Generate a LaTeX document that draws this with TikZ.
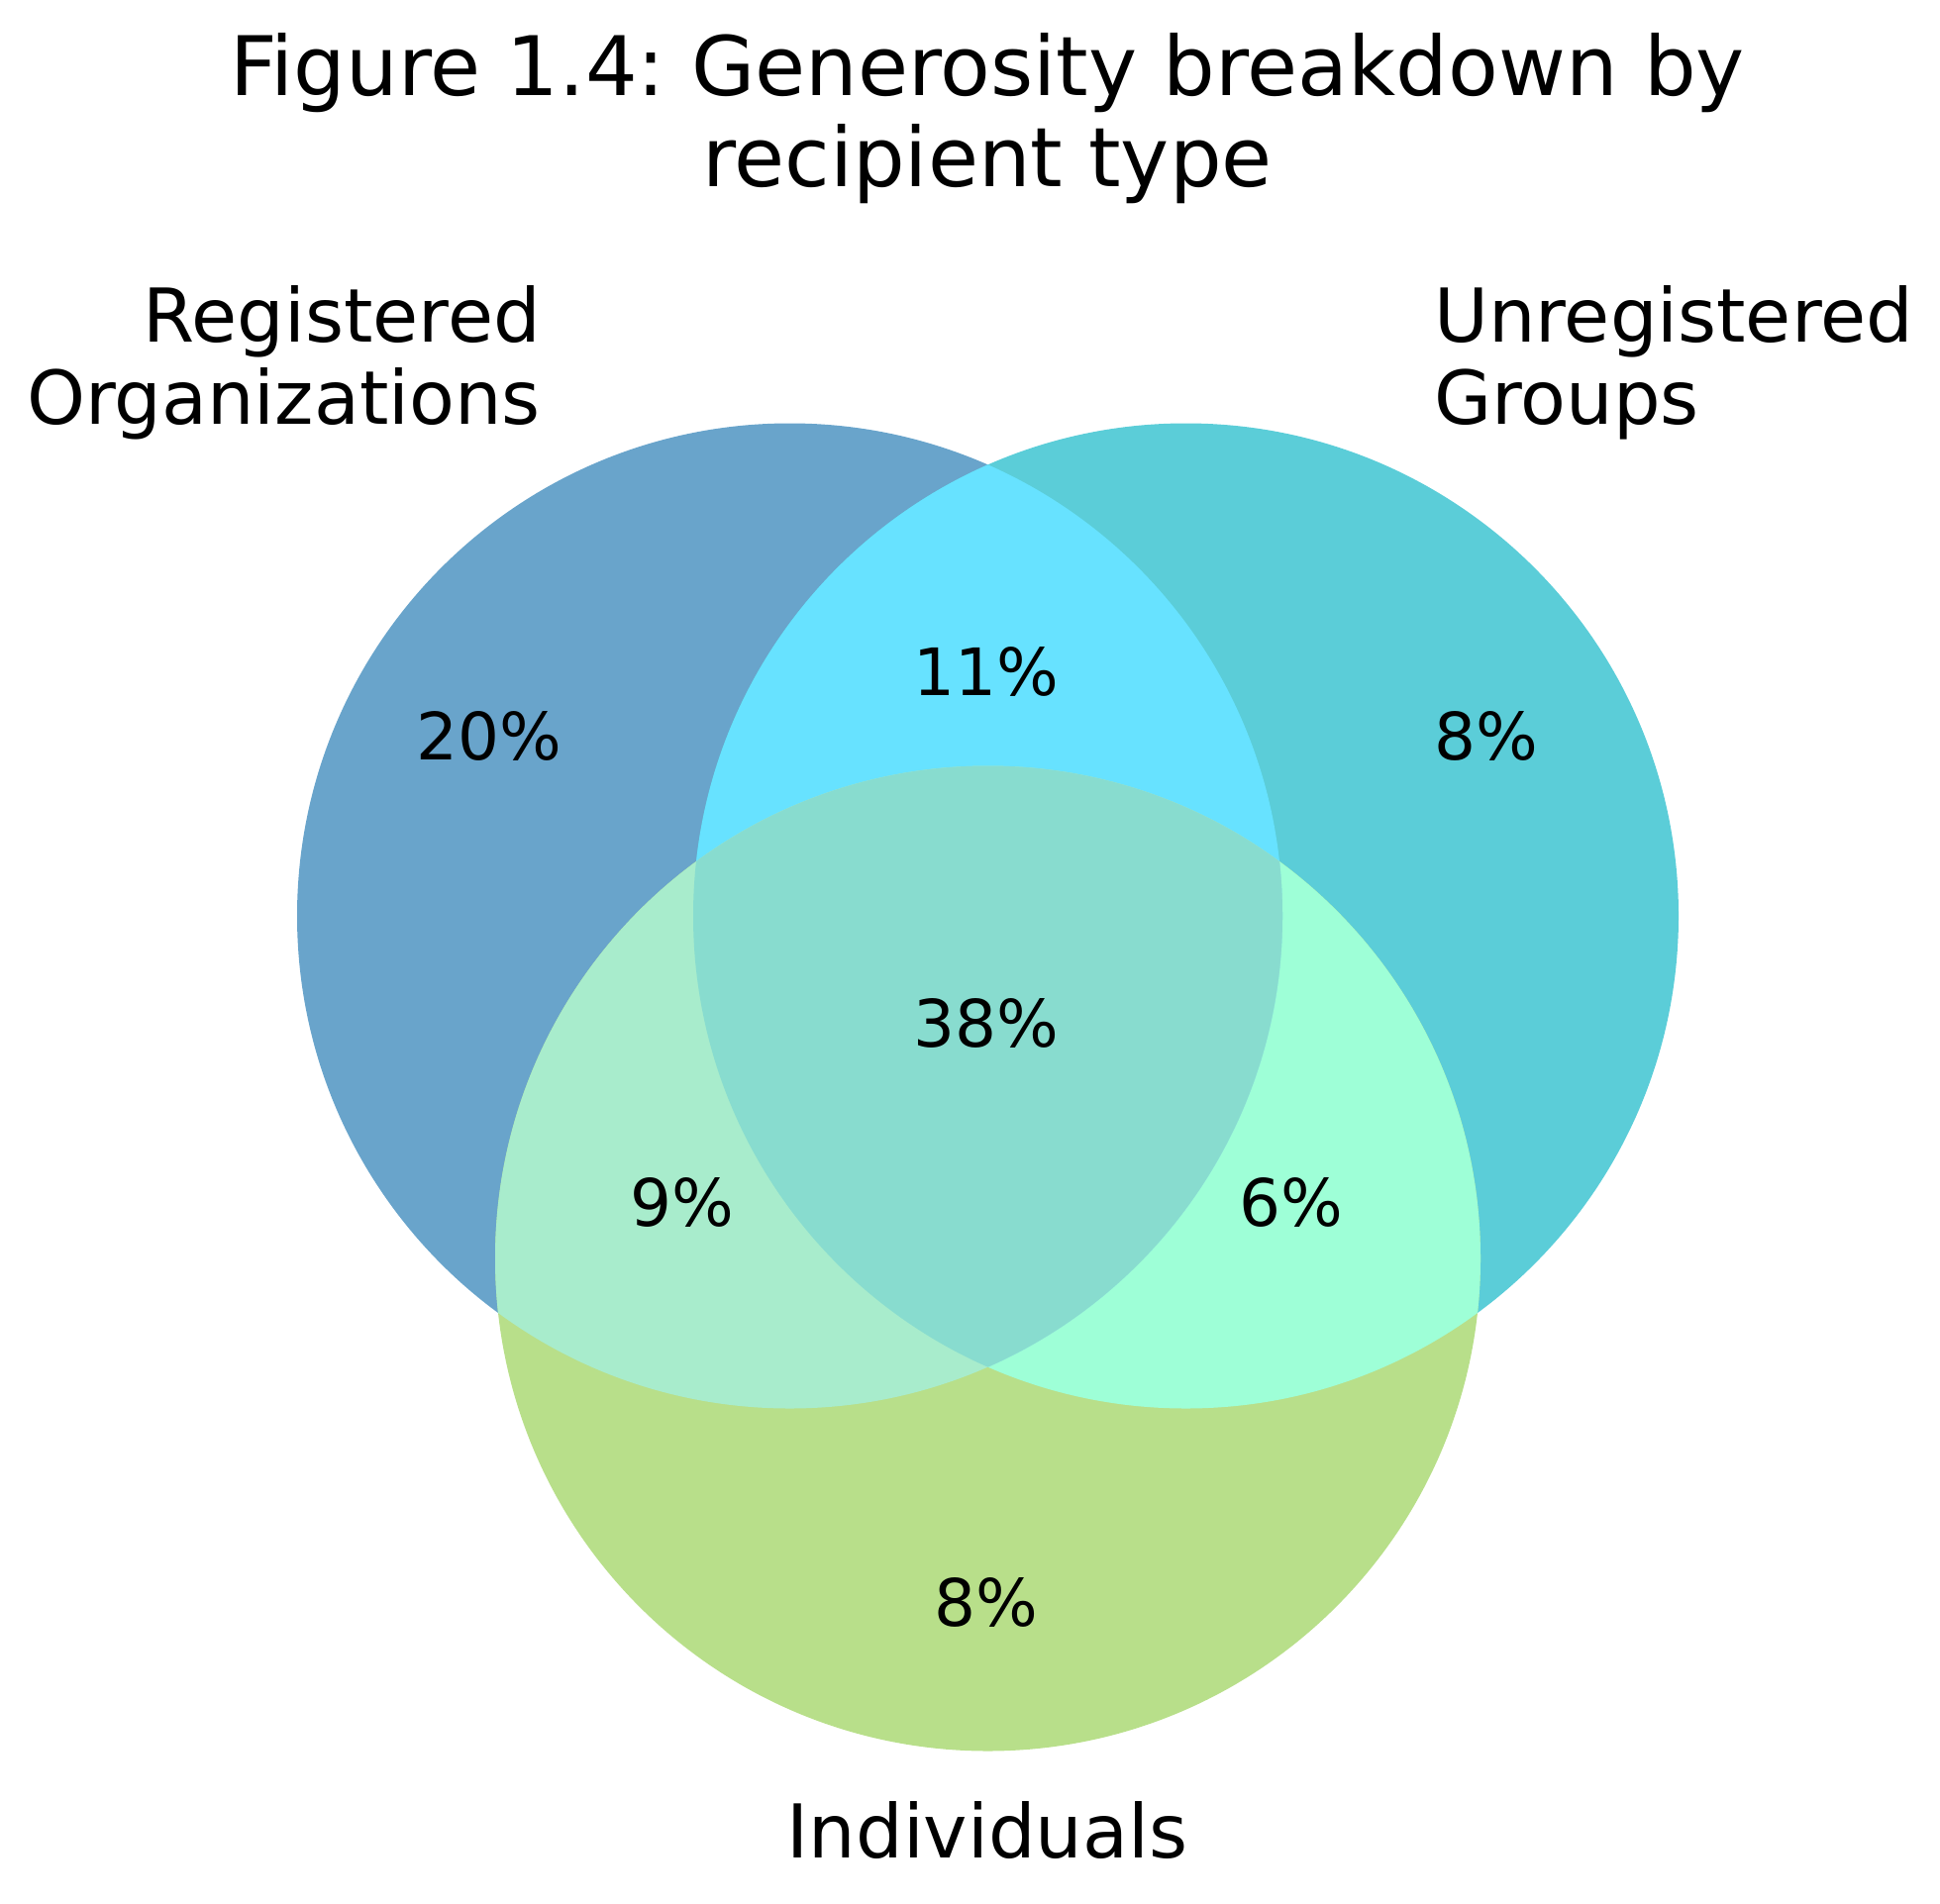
\documentclass[tikz,border=0pt]{standalone}
\usepackage{fontspec}
\setmainfont{DejaVu Sans}
\frenchspacing
\definecolor{cL}{HTML}{69A4CB}
\definecolor{cR}{HTML}{5BCDD8}
\definecolor{cB}{HTML}{B8DF8A}
\definecolor{cLR}{HTML}{67E2FF}
\definecolor{cLB}{HTML}{A8ECCC}
\definecolor{cRB}{HTML}{9EFFD7}
\definecolor{cLRB}{HTML}{88DCCF}
\begin{document}
\begin{tikzpicture}[x=1pt,y=-1pt,
  titletext/.style={font=\fontsize{83}{94}\selectfont, align=center, inner sep=0pt, anchor=base},
  settext/.style={font=\fontsize{75}{83}\selectfont, inner sep=0pt, anchor=base},
  numtext/.style={font=\fontsize{66}{70}\selectfont, inner sep=0pt, anchor=base}]
\useasboundingbox (0,0) rectangle (1959,1922);
\coordinate (cl) at (797.5,925);
\coordinate (cr) at (1197.5,925);
\coordinate (cb) at (997.5,1271);
\def\rad{497.5pt}
\fill[cL] (cl) circle (\rad);
\fill[cR] (cr) circle (\rad);
\fill[cB] (cb) circle (\rad);
\begin{scope}
  \clip (cr) circle (\rad);
  \fill[cRB] (cb) circle (\rad);
\end{scope}
\begin{scope}
  \clip (cl) circle (\rad);
  \fill[cLR] (cr) circle (\rad);
  \fill[cLB] (cb) circle (\rad);
  \clip (cr) circle (\rad);
  \fill[cLRB] (cb) circle (\rad);
\end{scope}
\node[titletext] (title1) at (997,96) {Figure 1.4: Generosity breakdown by};
\node[titletext] (title2) at (997,188) {recipient type};
\node[settext, anchor=base east] (reg1) at (546,345) {Registered};
\node[settext, anchor=base east] (reg2) at (546,428) {Organizations};
\node[settext, anchor=base west] (unr1) at (1448,345) {Unregistered};
\node[settext, anchor=base west] (unr2) at (1448,428) {Groups};
\node[settext] (ind) at (997,1876) {Individuals};
\node[numtext] (n20) at (494,767) {20\%};
\node[numtext] (n11) at (996,702) {11\%};
\node[numtext] (n8r) at (1501,767) {8\%};
\node[numtext] (n38) at (996,1057) {38\%};
\node[numtext] (n9) at (689,1238) {9\%};
\node[numtext] (n6) at (1304,1238) {6\%};
\node[numtext] (n8b) at (996,1642) {8\%};
\end{tikzpicture}
\end{document}
